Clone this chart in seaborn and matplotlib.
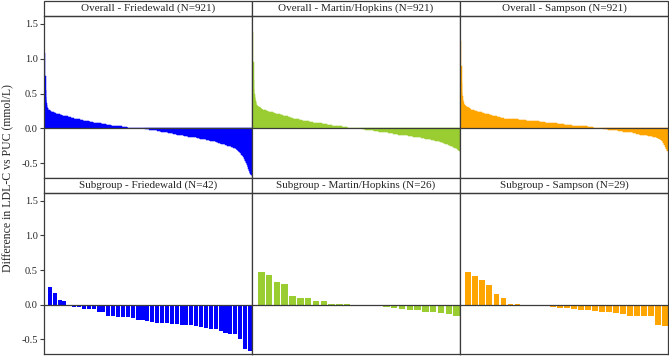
import numpy as np
import pandas as pd
import matplotlib.pyplot as plt
from matplotlib.patches import Rectangle
import seaborn as sns

methods = ["Friedewald", "Martin/Hopkins", "Sampson"]
colours = ["#0000FF", "#9ACD32", "#FFA500"]
ytick_vals = [-0.5, 0.0, 0.5, 1.0, 1.5]
ytick_labels = ["-0.5", "0.0", "0.5", "1.0", "1.5"]

# overall cohort (N=921): sorted differences kept as levels + number of bars at each level
fw_all_vals = [1.08, 0.75, 0.55, 0.45, 0.40, 0.36, 0.33, 0.31, 0.29, 0.27, 0.26, 0.25,
               0.24, 0.23, 0.22, 0.21, 0.20, 0.19, 0.18, 0.17, 0.16, 0.15, 0.14, 0.13,
               0.12, 0.11, 0.10, 0.09, 0.08, 0.07, 0.06, 0.05, 0.04, 0.03, 0.02, 0.01,
               0.00, -0.01, -0.02, -0.03, -0.04, -0.05, -0.06, -0.07, -0.08, -0.09, -0.10,
               -0.11, -0.12, -0.13, -0.14, -0.15, -0.16, -0.17, -0.18, -0.19, -0.20, -0.21,
               -0.22, -0.23, -0.24, -0.25, -0.26, -0.27, -0.28, -0.29, -0.30, -0.31, -0.32,
               -0.34, -0.36, -0.38, -0.40, -0.42, -0.44, -0.47, -0.50, -0.53, -0.56, -0.59,
               -0.62, -0.64, -0.66, -0.67, -0.69]
fw_all_counts = [1, 1, 1, 1, 1, 1, 1, 2, 3, 4, 4, 5,
                 6, 7, 8, 9, 10, 11, 12, 12, 13, 13, 13, 14,
                 14, 15, 15, 16, 16, 20, 22, 22, 23, 24, 26, 28,
                 50, 20, 22, 14, 14, 14, 20, 22, 15, 15, 16,
                 21, 22, 15, 14, 15, 15, 15, 15, 11, 11, 11,
                 12, 9, 9, 9, 9, 9, 6, 5, 5, 5, 5,
                 5, 5, 5, 4, 4, 4, 4, 4, 3, 3, 3,
                 3, 3, 3, 3, 1]

mh_all_vals = [1.39, 0.95, 0.70, 0.57, 0.50, 0.45, 0.42, 0.39, 0.36, 0.34, 0.32, 0.31,
               0.30, 0.29, 0.28, 0.27, 0.26, 0.25, 0.24, 0.23, 0.22, 0.21, 0.20, 0.19,
               0.18, 0.17, 0.16, 0.15, 0.14, 0.13, 0.12, 0.11, 0.10, 0.09, 0.08, 0.07,
               0.06, 0.05, 0.04, 0.03, 0.02, 0.01, 0.00, -0.01, -0.02, -0.03, -0.04, -0.05,
               -0.06, -0.07, -0.08, -0.09, -0.10, -0.11, -0.12, -0.13, -0.14, -0.15, -0.16,
               -0.17, -0.18, -0.19, -0.20, -0.21, -0.22, -0.23, -0.24, -0.25, -0.26, -0.27,
               -0.28, -0.29, -0.30, -0.31, -0.32]
mh_all_counts = [1, 1, 1, 1, 2, 2, 2, 2, 2, 3, 4, 4,
                 5, 5, 6, 6, 9, 10, 11, 10, 11, 11, 11, 11,
                 11, 11, 11, 11, 14, 14, 15, 15, 15, 16, 20, 22,
                 22, 22, 22, 22, 25, 25, 40, 15, 15, 22, 22, 22,
                 22, 22, 22, 22, 22, 22, 22, 15, 15, 14, 15,
                 15, 12, 12, 12, 9, 8, 8, 8, 6, 6, 6,
                 6, 5, 5, 5, 5]

sp_all_vals = [1.25, 0.90, 0.65, 0.52, 0.46, 0.41, 0.38, 0.35, 0.33, 0.32, 0.31, 0.30,
               0.29, 0.28, 0.27, 0.26, 0.25, 0.24, 0.23, 0.22, 0.21, 0.20, 0.19, 0.18,
               0.17, 0.16, 0.15, 0.14, 0.13, 0.12, 0.11, 0.10, 0.09, 0.08, 0.07, 0.06,
               0.05, 0.04, 0.03, 0.02, 0.01, 0.00, -0.01, -0.02, -0.03, -0.04, -0.05,
               -0.06, -0.07, -0.08, -0.09, -0.10, -0.11, -0.12, -0.13, -0.14, -0.15,
               -0.17, -0.19, -0.21, -0.24, -0.27, -0.30, -0.32]
sp_all_counts = [1, 1, 1, 1, 2, 2, 3, 3, 4, 4, 5, 5,
                 5, 5, 8, 9, 10, 11, 11, 11, 11, 11, 11, 11,
                 12, 15, 16, 25, 40, 35, 30, 28, 25, 25, 30, 30,
                 35, 35, 35, 25, 25, 20, 20, 25, 22, 22, 22,
                 22, 15, 15, 15, 20, 22, 10, 9, 9, 8,
                 6, 5, 5, 5, 4, 4, 4]

# subgroup: one sorted value per patient
fw_sub = [0.25, 0.17, 0.07, 0.045, -0.02, -0.04, -0.04, -0.06, -0.07, -0.07, -0.10, -0.10,
          -0.16, -0.17, -0.18, -0.18, -0.18, -0.20, -0.22, -0.23, -0.24, -0.25, -0.26, -0.26,
          -0.26, -0.28, -0.28, -0.30, -0.30, -0.30, -0.31, -0.32, -0.34, -0.36, -0.36, -0.38,
          -0.41, -0.43, -0.43, -0.50, -0.64, -0.67]
mh_sub = [0.47, 0.43, 0.32, 0.30, 0.12, 0.10, 0.10, 0.05, 0.05, 0.015, 0.01, 0.01, 0.0, 0.0,
          -0.02, -0.02, -0.03, -0.05, -0.06, -0.08, -0.08, -0.11, -0.11, -0.125, -0.13, -0.16]
sp_sub = [0.47, 0.41, 0.36, 0.29, 0.16, 0.10, 0.015, 0.005, 0.0, -0.015, -0.015, -0.025,
          -0.04, -0.05, -0.05, -0.07, -0.08, -0.08, -0.095, -0.10, -0.11, -0.12, -0.13,
          -0.16, -0.16, -0.16, -0.17, -0.30, -0.31]

overall = [np.repeat(fw_all_vals, fw_all_counts), np.repeat(mh_all_vals, mh_all_counts),
           np.repeat(sp_all_vals, sp_all_counts)]
subgroup = [np.array(fw_sub), np.array(mh_sub), np.array(sp_sub)]

rows = []
for grp, series in [("Overall", overall), ("Subgroup", subgroup)]:
    for m, vals in zip(methods, series):
        for i, v in enumerate(vals):
            rows.append((grp, m, i, v))
df = pd.DataFrame(rows, columns=["group", "method", "idx", "diff"])

sns.set_style("white")
plt.rcParams["font.family"] = ["Liberation Serif", "DejaVu Serif"]
plt.rcParams["axes.unicode_minus"] = False

W, H = 669, 357
fig = plt.figure(figsize=(W / 100, H / 100), dpi=100)

col_left = [44, 252, 460]
panel_w = 208
row_top = [16, 193]
row_h = [162, 161]
strip_h = 15
edge = "#3a3a3a"

for r, grp in enumerate(["Overall", "Subgroup"]):
    for c, m in enumerate(methods):
        ax = fig.add_axes([col_left[c] / W, 1 - (row_top[r] + row_h[r]) / H,
                           panel_w / W, row_h[r] / H])
        d = df[(df.group == grp) & (df.method == m)]
        n = len(d)
        if grp == "Overall":
            sns.barplot(data=d, x="idx", y="diff", native_scale=True, width=1.0,
                        color=colours[c], saturation=1, errorbar=None,
                        edgecolor=colours[c], linewidth=0.35, ax=ax)
            # small gap so the first (tallest) bar clears the frame
            ax.set_xlim(-6, n - 0.5)
        else:
            sns.barplot(data=d, x="idx", y="diff", native_scale=True, width=0.83,
                        color=colours[c], saturation=1, errorbar=None,
                        linewidth=0, ax=ax)
            ax.set_xlim(-0.415 - 0.77, n - 1 + 0.43)
        ax.axhline(0, color=edge, lw=0.9, zorder=5)
        ax.set_ylim(-0.715, 1.615)
        ax.set_xlabel("")
        ax.set_ylabel("")
        ax.set_xticks([])
        ax.set_yticks(ytick_vals)
        if c == 0:
            ax.set_yticklabels(ytick_labels, fontsize=7.5)
            ax.tick_params(axis="y", direction="out", length=3, width=0.8,
                           color=edge, pad=1.5, left=True)
        else:
            ax.tick_params(axis="y", left=False, labelleft=False)
        for s in ax.spines.values():
            s.set_color(edge)
            s.set_linewidth(0.9)
        # strip label above the panel
        sh = strip_h / row_h[r]
        ax.add_patch(Rectangle((0, 1), 1, sh, transform=ax.transAxes, clip_on=False,
                               facecolor="white", edgecolor=edge, lw=0.9))
        ax.text(0.5, 1 + sh / 2, f"{grp} - {m} (N={n})", transform=ax.transAxes,
                ha="center", va="center", fontsize=8)

fig.text(0.011, 0.5, "Difference in LDL-C vs PUC (mmol/L)", rotation=90,
         ha="center", va="center", fontsize=8.5)

fig.savefig("out.png", dpi=100)
